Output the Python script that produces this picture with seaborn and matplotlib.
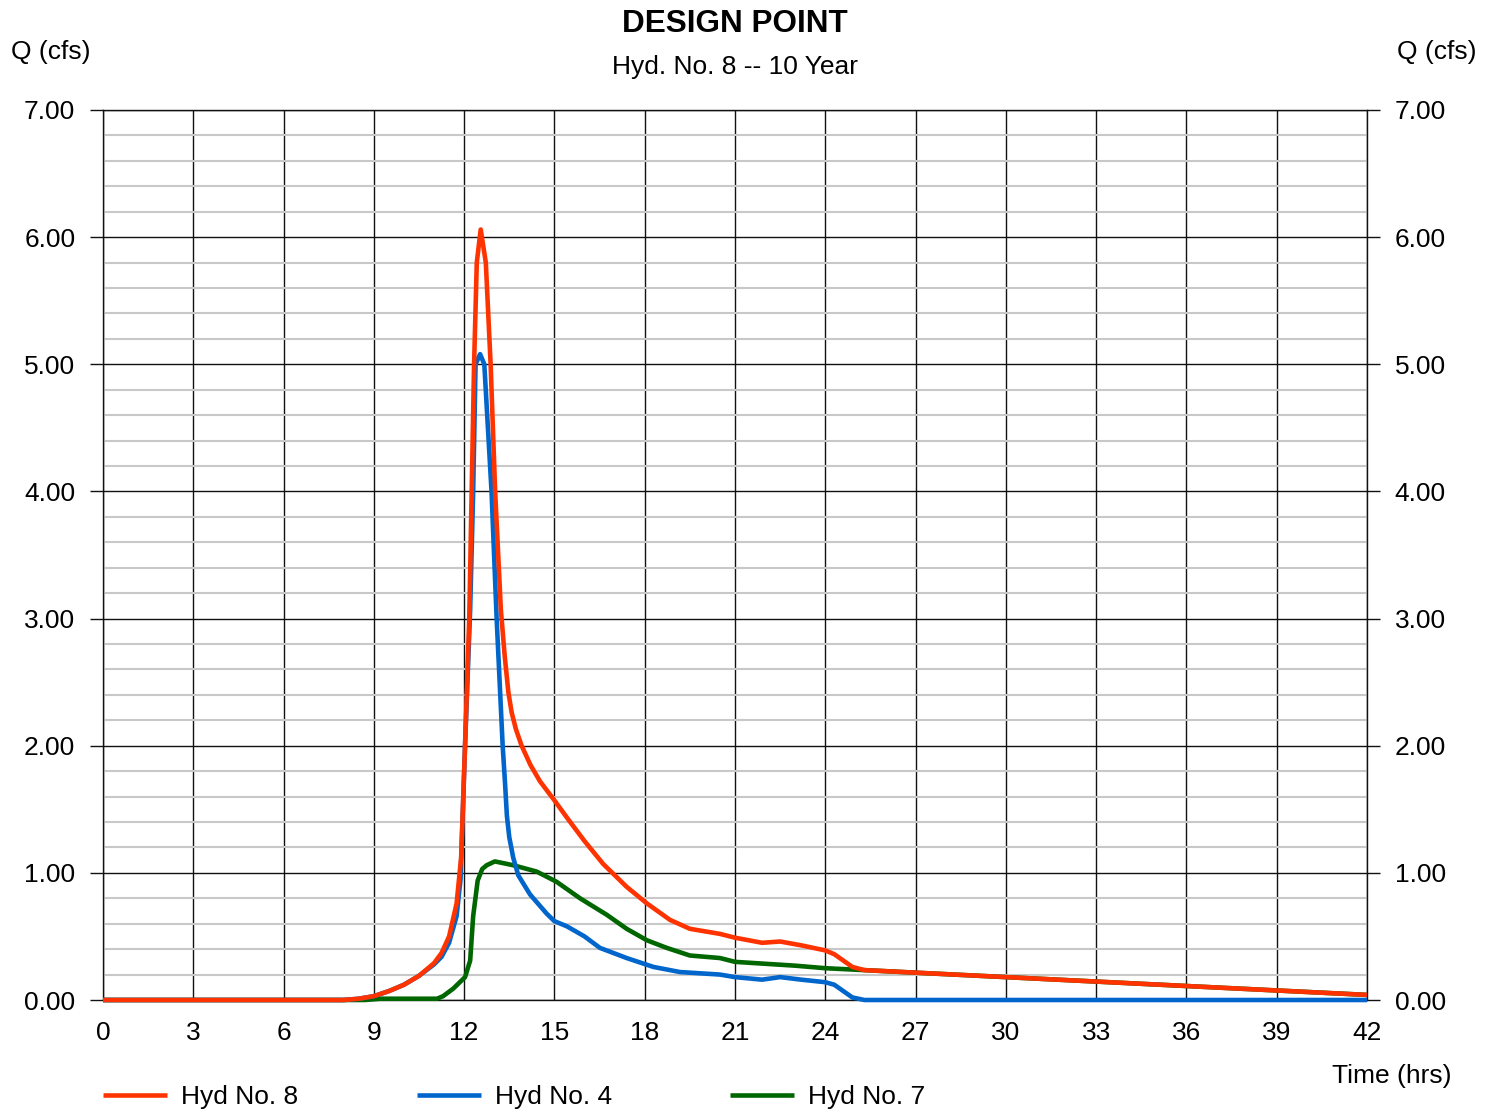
import matplotlib
matplotlib.use("Agg")
import matplotlib.pyplot as plt
from matplotlib.ticker import MultipleLocator, FormatStrFormatter
import seaborn as sns
import pandas as pd

# Hydrograph ordinates: time (hrs) and discharge Q (cfs)
hyd8_time = [0, 8.0, 8.5, 9.0, 9.5, 10.0, 10.5, 11.0, 11.25, 11.5, 11.75, 11.9,
             12.03, 12.17, 12.33, 12.42, 12.55, 12.72, 12.88, 13.03, 13.22, 13.35,
             13.47, 13.58, 13.72, 13.91, 14.2, 14.52, 15.0, 15.46, 16.0, 16.62,
             17.4, 18.07, 18.84, 19.5, 20.5, 21.0, 21.9, 22.5, 23.2, 24.0, 24.3,
             24.6, 24.9, 25.3, 27, 30, 33, 36, 39, 42]
hyd8_q = [0, 0, 0.01, 0.03, 0.07, 0.12, 0.19, 0.29, 0.37, 0.50, 0.76, 1.12,
          2.0, 3.0, 5.0, 5.8, 6.06, 5.8, 5.0, 4.0, 3.07, 2.70,
          2.42, 2.26, 2.13, 2.0, 1.85, 1.72, 1.57, 1.42, 1.25, 1.07,
          0.89, 0.76, 0.63, 0.56, 0.52, 0.49, 0.45, 0.46, 0.43, 0.39, 0.36,
          0.31, 0.26, 0.235, 0.215, 0.18, 0.145, 0.11, 0.075, 0.04]

hyd4_time = [0, 8.0, 8.5, 9.0, 9.5, 10.0, 10.5, 11.0, 11.25, 11.5, 11.75, 11.88,
             12.03, 12.2, 12.3, 12.38, 12.53, 12.67, 12.91, 13.08, 13.28, 13.36,
             13.42, 13.5, 13.63, 13.8, 14.19, 14.74, 15.0, 15.41, 16.0, 16.51,
             17.4, 18.29, 19.17, 20.5, 21.0, 21.9, 22.5, 23.2, 24.0, 24.3, 24.6,
             24.9, 25.3, 26, 42]
hyd4_q = [0, 0, 0.01, 0.03, 0.07, 0.12, 0.19, 0.28, 0.34, 0.45, 0.66, 0.95,
          2.0, 3.07, 4.0, 5.0, 5.08, 5.0, 4.0, 3.0, 2.0, 1.70,
          1.45, 1.28, 1.12, 0.98, 0.83, 0.68, 0.62, 0.58, 0.50, 0.41,
          0.33, 0.26, 0.22, 0.20, 0.18, 0.16, 0.18, 0.16, 0.14, 0.12, 0.07,
          0.02, 0.0, 0.0, 0.0]

hyd7_time = [0, 8.7, 9.2, 11.1, 11.3, 11.64, 12.03, 12.2, 12.3, 12.45, 12.6,
             12.75, 13.02, 13.63, 14.41, 15.07, 15.85, 16.74, 17.4, 18.07, 18.73,
             19.5, 20.5, 21.0, 22.0, 23.0, 24.0, 25.3, 27, 30, 33, 36, 39, 42]
hyd7_q = [0, 0, 0.01, 0.01, 0.03, 0.09, 0.18, 0.31, 0.66, 0.94, 1.03,
          1.06, 1.09, 1.06, 1.01, 0.93, 0.80, 0.67, 0.56, 0.47, 0.41,
          0.35, 0.33, 0.30, 0.285, 0.27, 0.25, 0.235, 0.215, 0.18, 0.145, 0.11, 0.075, 0.04]

series_names = ["Hyd No. 8", "Hyd No. 4", "Hyd No. 7"]
series_colors = ["#FF3300", "#0066CC", "#006600"]

x_ticks = list(range(0, 43, 3))
y_ticks = [0, 1, 2, 3, 4, 5, 6, 7]

sns.set_theme(style="white")
plt.rcParams["font.family"] = ["Liberation Sans", "DejaVu Sans"]
plt.rcParams["text.color"] = "black"
plt.rcParams["xtick.color"] = "black"
plt.rcParams["ytick.color"] = "black"

FS = 19
W, H = 1494, 1112
fig = plt.figure(figsize=(W / 100, H / 100), dpi=100)
ax = fig.add_axes([103 / W, 1 - 1000 / H, 1264 / W, 890 / H])

frames = [
    pd.DataFrame({"time": hyd8_time, "q": hyd8_q}),
    pd.DataFrame({"time": hyd4_time, "q": hyd4_q}),
    pd.DataFrame({"time": hyd7_time, "q": hyd7_q}),
]
zorders = [5, 4, 3]
for df, name, col, z in zip(frames, series_names, series_colors, zorders):
    sns.lineplot(data=df, x="time", y="q", ax=ax, color=col, linewidth=3.3,
                 label=name, zorder=z, clip_on=False, estimator=None, sort=False,
                 solid_joinstyle="round", solid_capstyle="butt")
h, l = ax.get_legend_handles_labels()
if ax.get_legend() is not None:
    ax.get_legend().remove()

ax.set_xlim(0, 42)
ax.set_ylim(0, 7)
ax.set_xticks(x_ticks)
ax.set_yticks(y_ticks)
ax.yaxis.set_major_formatter(FormatStrFormatter("%.2f"))
ax.yaxis.set_minor_locator(MultipleLocator(0.2))
ax.set_xlabel("")
ax.set_ylabel("")

ax.set_axisbelow(True)
ax.grid(which="minor", axis="y", color="#c8c8c8", linewidth=1.5)
ax.grid(which="major", axis="both", color="#111111", linewidth=1.0)

ax.tick_params(axis="y", which="major", left=True, right=True, labelleft=True,
               labelright=True, length=9.4, width=1.0, color="#111111",
               direction="out", pad=10.5, labelsize=FS, labelcolor="black")
ax.tick_params(axis="y", which="minor", length=0)
ax.tick_params(axis="x", which="major", length=0, pad=15.0, labelsize=FS,
               labelcolor="black")
for s in ax.spines.values():
    s.set_visible(True)
    s.set_color("#111111")
    s.set_linewidth(1.0)

fig.text(735 / W, 1 - 32 / H, "DESIGN POINT", ha="center", va="baseline",
         fontsize=22.7, fontweight="bold", color="black")
fig.text(735 / W, 1 - 74 / H, "Hyd. No. 8 -- 10 Year", ha="center",
         va="baseline", fontsize=FS, color="black")
fig.text(11 / W, 1 - 59 / H, "Q (cfs)", ha="left", va="baseline",
         fontsize=FS, color="black")
fig.text(1397 / W, 1 - 59 / H, "Q (cfs)", ha="left", va="baseline",
         fontsize=FS, color="black")
fig.text(1451 / W, 1 - 1083 / H, "Time (hrs)", ha="right", va="baseline",
         fontsize=FS, color="black")

leg = fig.legend(h, l, loc="center left", bbox_to_anchor=(103 / W, 1 - 1097 / H),
                 ncol=3, frameon=False, fontsize=FS, handlelength=2.42,
                 handletextpad=0.53, columnspacing=4.5, borderpad=0,
                 borderaxespad=0)
for t in leg.get_texts():
    t.set_color("black")

fig.savefig("out.png", dpi=100)
